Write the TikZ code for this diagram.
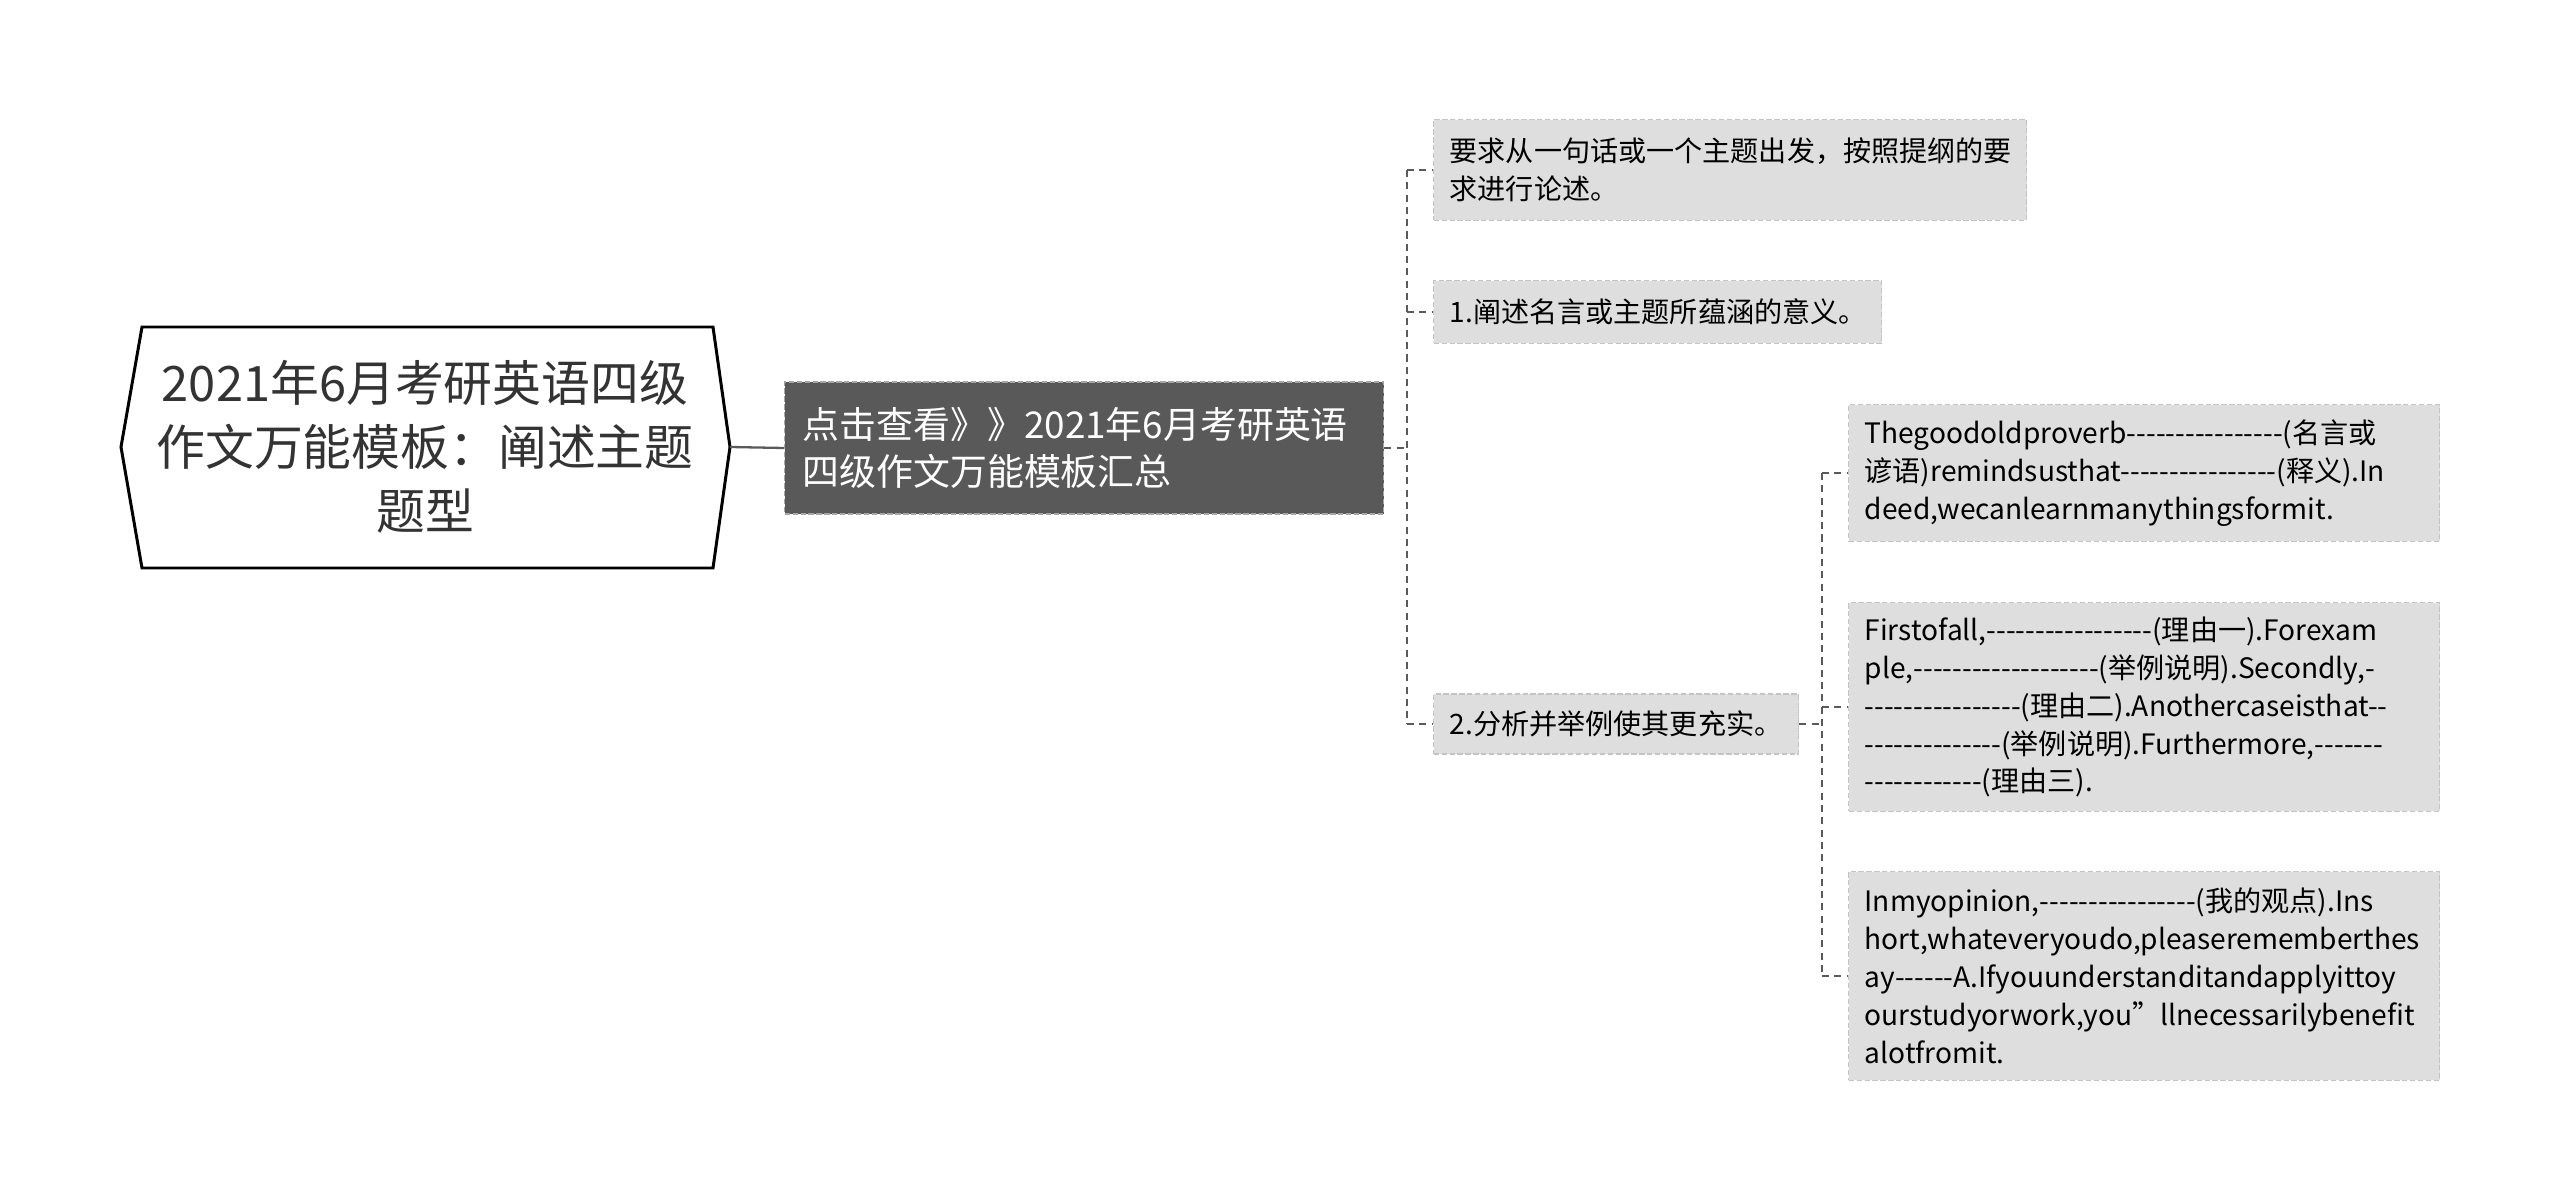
\documentclass[tikz,border=0pt]{standalone}
\usepackage{fontspec}
\setmainfont[Ligatures=TeXOff]{Noto Sans CJK SC}
\usepackage{xcolor}
\usepackage{tikz}
\definecolor{boxgray}{HTML}{DEDEDE}
\definecolor{edgegray}{HTML}{C4C4C4}
\definecolor{darkbox}{HTML}{595959}
\definecolor{darkedge}{HTML}{A6A6A6}
\definecolor{linegray}{HTML}{5A5A5A}
\definecolor{ink}{HTML}{333333}

\begin{document}
\begin{tikzpicture}[x=0.02cm,y=-0.02cm,
  leaf/.style={draw=edgegray, fill=boxgray, line width=0.8pt, dash pattern=on 3pt off 1.5pt,
    anchor=west, align=left, inner xsep=0.32cm, text=black, text width=#1,
    font=\fontsize{16}{21.6}\selectfont},
  link/.style={linegray, line width=1pt, dash pattern=on 4pt off 3pt}]
\useasboundingbox (0,0) rectangle (2560,1202);

% root
\draw[line width=1.7pt, fill=white] (121,447) -- (142,327) -- (713,327) -- (730,447)
  -- (713,568) -- (142,568) -- cycle;
\node[align=center, text=ink, font=\fontsize{27.8}{36.5}\selectfont] (root) at (425,447)
  {2021年6月考研英语四级\\作文万能模板：阐述主题\\题型};
\coordinate (rootE) at (730,447);

\node[draw=darkedge, fill=darkbox, line width=0.8pt, dash pattern=on 3pt off 1.5pt,
  anchor=west, align=left, inner xsep=0.36cm, minimum height=2.64cm, text width=11.26cm,
  text=white, font=\fontsize{21}{27}\selectfont] (sum) at (784,448)
  {点击查看》》2021年6月考研英语\\四级作文万能模板汇总};

\node[leaf=11.22cm, minimum height=2.02cm] (req) at (1433,170)
  {要求从一句话或一个主题出发，按照提纲的要\\求进行论述。};
\node[leaf=8.32cm, minimum height=1.26cm] (one) at (1433,312)
  {1.阐述名言或主题所蕴涵的意义。};
\node[leaf=6.66cm, minimum height=1.2cm] (two) at (1433,724)
  {2.分析并举例使其更充实。};

\node[leaf=11.18cm, minimum height=2.74cm] (prov) at (1848,473)
  {Thegoodoldproverb----------------(名言或\\谚语)remindsusthat----------------(释义).In\\deed,wecanlearnmanythingsformit.};
\node[leaf=11.18cm, minimum height=4.18cm] (first) at (1848,707)
  {Firstofall,-----------------(理由一).Forexam\\ple,-------------------(举例说明).Secondly,-\\----------------(理由二).Anothercaseisthat--\\--------------(举例说明).Furthermore,-------\\------------(理由三).};
\node[leaf=11.18cm, minimum height=4.18cm] (opin) at (1848,976)
  {Inmyopinion,----------------(我的观点).Ins\\hort,whateveryoudo,pleaserememberthes\\ay------A.Ifyouunderstanditandapplyittoy\\ourstudyorwork,you”llnecessarilybenefit\\alotfromit.};

% connectors
\draw[linegray, line width=1.3pt] (rootE) -- (sum.west);
\coordinate (t1) at (1407,448);
\draw[link] (sum.east) -- (t1);
\draw[link] (t1 |- req.west) -- (t1 |- two.west);
\foreach \n in {req,one,two}
  \draw[link] (t1 |- \n.west) -- (\n.west);
\coordinate (t2) at (1822,724);
\draw[link] (two.east) -- (t2);
\draw[link] (t2 |- prov.west) -- (t2 |- opin.west);
\foreach \n in {prov,first,opin}
  \draw[link] (t2 |- \n.west) -- (\n.west);
\end{tikzpicture}
\end{document}
